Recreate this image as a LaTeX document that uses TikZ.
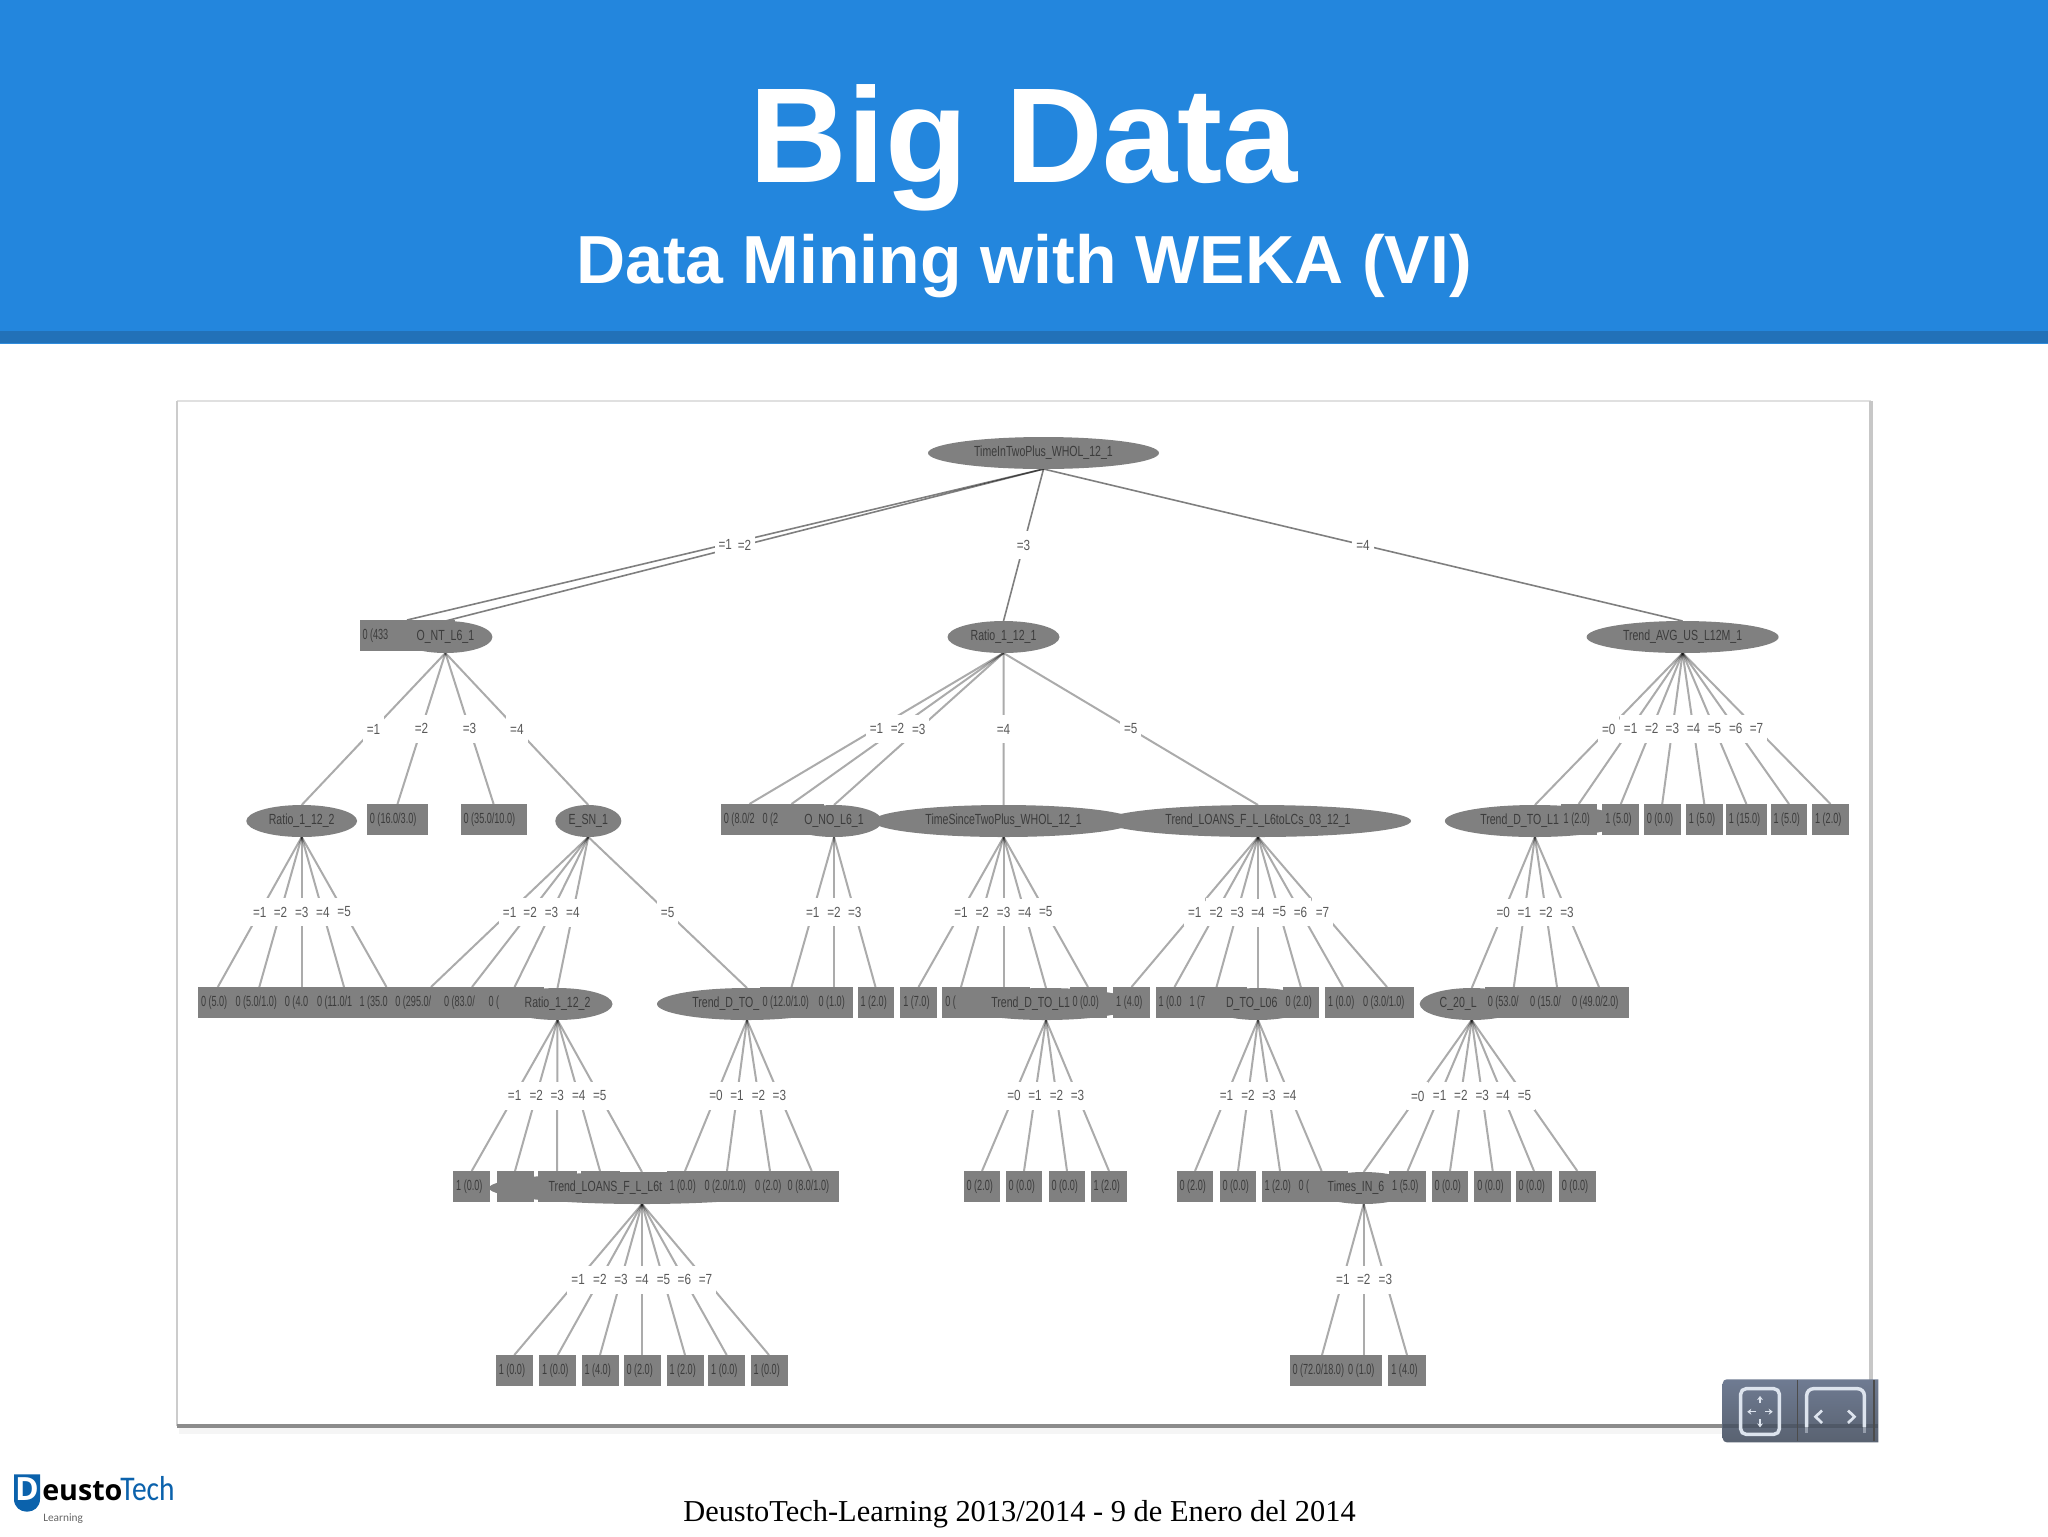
\documentclass[tikz,border=0pt]{standalone}
\usepackage{fontspec}
\usetikzlibrary{shapes.geometric,arrows.meta}
\setmainfont{Liberation Sans}
\newfontfamily\wkfont[FakeStretch=0.72]{Liberation Sans}
\newfontfamily\lffont[FakeStretch=0.62]{Liberation Sans}
\newfontfamily\lbfont[FakeStretch=0.8]{Liberation Sans}
\newfontfamily\footfont{Liberation Serif}
\newfontfamily\logofont{Open Sans}
\newfontfamily\techfont[FakeStretch=0.85]{Carlito}
\newfontfamily\learnfont{Carlito}
\definecolor{hdr}{HTML}{2386DD}
\definecolor{hdrdark}{HTML}{2271B8}
\definecolor{hdrline}{HTML}{2F8CDC}
\definecolor{nodegray}{HTML}{808080}
\definecolor{nodetxt}{HTML}{3C3C3C}
\definecolor{logoblue}{HTML}{0B62AC}
\definecolor{ctltop}{HTML}{6F7B92}
\definecolor{ctlmid}{HTML}{5F6A7F}
\definecolor{ctlbot}{HTML}{596271}
\definecolor{ctlicon}{HTML}{DDE4EE}
\pgfdeclarelayer{lab}
\pgfdeclarelayer{top}
\pgfsetlayers{main,lab,top}
\tikzset{
  ell/.style={shape=ellipse,fill=nodegray,inner sep=0pt,outer sep=0pt,minimum height=24pt,text=nodetxt,font=\wkfont\fontsize{11}{11}\selectfont},
  leaf/.style={shape=rectangle,fill=nodegray,inner sep=0pt,outer sep=0pt,minimum height=23.25pt,text=nodetxt,font=\lffont\fontsize{11}{11}\selectfont},
  edge/.style={draw=black,draw opacity=.33,line width=1.5pt},
  rootedge/.style={draw=black,draw opacity=.5,line width=1.2pt},
  lab/.style={fill=white,inner sep=0pt,minimum width=16pt,minimum height=21pt,text=black!65,font=\lbfont\fontsize{11}{11}\selectfont},
  head/.style={text=white,font=\bfseries},
  ctlline/.style={draw=ctlicon,line width=1pt,-{Stealth[length=3pt,width=4.5pt]}},
}
\newcommand{\EL}[5]{\node[ell,minimum width={1.5*#4 pt}] (#1) at (#2,#3) {#5};}
\newcommand{\ELL}[6]{\node[ell,minimum width={1.5*#4 pt}] (#1) at (#2,#3) {\makebox[#6pt][l]{#5}};}
\newcommand{\RC}[5]{\node[leaf,minimum width={1.5*#4 pt}] (#1) at (#2,#3-1.5) {\makebox[\dimexpr #4pt*3/2-4.5pt\relax][l]{#5}};}
\newcommand{\ED}[3]{\draw[edge] (#1.south) -- (#2.north);
  \begin{pgfonlayer}{lab}\path (#1.south) -- node[lab]{#3} (#2.north);\end{pgfonlayer}}
\newcommand{\EDR}[3]{\draw[rootedge] (#1.south) -- (#2.north);
  \begin{pgfonlayer}{lab}\path (#1.south) -- node[lab]{#3} (#2.north);\end{pgfonlayer}}
\begin{document}
\begin{tikzpicture}[x=.75pt,y=-.75pt]
\useasboundingbox (0,0) rectangle (2048,1536);
\fill[white] (0,0) rectangle (2048,1536);
% header
\fill[hdr] (0,0) rectangle (2048,331);
\fill[hdrdark] (0,331) rectangle (2048,343);
\fill[hdrline] (0,343) rectangle (2048,344);
\node[head,anchor=base] (title) at (1024,182) {\fontsize{101.4}{101.4}\selectfont Big Data};
\node[head,anchor=base] (subtitle) at (1024,283) {\fontsize{51}{51}\selectfont Data Mining with WEKA (VI)};
% frame
\fill[black!4] (179,1428) rectangle (1872,1434);
\draw[black!12,line width=1pt] (177,401) -- (1871,401);
\draw[black!20,line width=2pt] (177,401) -- (177,1426);
\draw[black!22,line width=2.4pt] (1871,401) -- (1871,1426);
\draw[black!45,line width=2.6pt] (177,1426) -- (1871,1426);
% tree nodes
\begin{pgfonlayer}{top}
\def\yA{453}\def\yB{637}\def\yC{821}\def\yD{1004}\def\yE{1188}\def\yF{1372}
\EL{root}{1043.5}{\yA}{115.5}{TimeInTwoPlus\_WHOL\_12\_1}
% level 1
\RC{a1}{407}{\yB}{47.5}{0 (433}
\EL{a2}{445.4}{\yB}{47}{O\_NT\_L6\_1}
\EL{a3}{1003.5}{\yB}{56}{Ratio\_1\_12\_1}
\EL{a4}{1682.6}{\yB}{96}{Trend\_AVG\_US\_L12M\_1}
% level 2
\EL{b1}{301.7}{\yC}{55.4}{Ratio\_1\_12\_2}
\RC{b2}{397.5}{\yC}{30.6}{0 (16.0/3.0)}
\RC{b3}{493.6}{\yC}{33}{0 (35.0/10.0)}
\EL{b4}{588.3}{\yC}{33}{E\_SN\_1}
\RC{b5}{749.4}{\yC}{28.5}{0 (8.0/2}
\RC{b6}{791.5}{\yC}{32}{0 (2}
\EL{b7}{834}{\yC}{48}{O\_NO\_L6\_1}
\EL{b8}{1003.6}{\yC}{131}{TimeSinceTwoPlus\_WHOL\_12\_1}
\EL{b9}{1258}{\yC}{153}{Trend\_LOANS\_F\_L\_L6toLCs\_03\_12\_1}
\ELL{c1}{1534.9}{\yC}{90}{Trend\_D\_TO\_L1}{82}
\RC{c2}{1578.7}{\yC}{18}{1 (2.0)}
\RC{c3}{1620.8}{\yC}{18.4}{1 (5.0)}
\RC{c4}{1662.2}{\yC}{18.4}{0 (0.0)}
\RC{c5}{1704.3}{\yC}{18.4}{1 (5.0)}
\RC{c6}{1746.4}{\yC}{20.5}{1 (15.0)}
\RC{c7}{1789}{\yC}{18.4}{1 (5.0)}
\RC{c8}{1830.5}{\yC}{18.4}{1 (2.0)}
% level 3
\RC{d1}{217.8}{\yD}{19.8}{0 (5.0)}
\RC{d2}{259.3}{\yD}{26.8}{0 (5.0/1.0)}
\RC{d3}{301.7}{\yD}{19.8}{0 (4.0}
\RC{d4}{344}{\yD}{30}{0 (11.0/1}
\RC{d5}{386.5}{\yD}{30}{1 (35.0}
\RC{d6}{431}{\yD}{38.7}{0 (295.0/}
\RC{d7}{472}{\yD}{31}{0 (83.0/}
\RC{d8}{514.6}{\yD}{29}{0 (}
\EL{d9}{557.5}{\yD}{55}{Ratio\_1\_12\_2}
\ELL{e1}{747}{\yD}{90}{Trend\_D\_TO\_}{82}
\RC{e2}{791.5}{\yD}{32}{0 (12.0/1.0)}
\RC{e3}{834}{\yD}{18.5}{0 (1.0)}
\RC{e4}{875.5}{\yD}{18}{1 (2.0)}
\RC{f1}{918.5}{\yD}{18.2}{1 (7.0)}
\RC{f2}{961}{\yD}{18.6}{0 (}
\RC{fx}{1003.6}{\yD}{26}{}
\ELL{f3}{1046}{\yD}{90}{Trend\_D\_TO\_L1}{82}
\RC{f4}{1088}{\yD}{18.5}{0 (0.0)}
\RC{f5}{1131.5}{\yD}{18.3}{1 (4.0)}
\RC{g1}{1174.5}{\yD}{19}{1 (0.0}
\RC{g2}{1216.5}{\yD}{30}{1 (7}
\ELL{g3}{1258}{\yD}{52}{D\_TO\_L06}{48}
\RC{g4}{1300.8}{\yD}{18.3}{0 (2.0)}
\RC{g5}{1343}{\yD}{18}{1 (0.0)}
\RC{g6}{1387}{\yD}{27}{0 (3.0/1.0)}
\ELL{h1}{1471.7}{\yD}{52}{C\_20\_L}{48}
\RC{h2}{1513.8}{\yD}{29}{0 (53.0/}
\RC{h3}{1557}{\yD}{30}{0 (15.0/}
\RC{h4}{1599}{\yD}{30}{0 (49.0/2.0)}
% level 4
\RC{i1}{471.7}{\yE}{18.5}{1 (0.0)}
\RC{i2}{515}{\yE}{18.5}{}
\RC{i3}{557}{\yE}{19.5}{}
\RC{i4}{600}{\yE}{19.5}{}
\ELL{i5}{642}{\yE}{153}{Trend\_LOANS\_F\_L\_L6t}{140}
\RC{j1}{685}{\yE}{18.5}{1 (0.0)}
\RC{j2}{727}{\yE}{25.5}{0 (2.0/1.0)}
\RC{j3}{770}{\yE}{18}{0 (2.0)}
\RC{j4}{811.7}{\yE}{27}{0 (8.0/1.0)}
\RC{k1}{982}{\yE}{18.4}{0 (2.0)}
\RC{k2}{1024}{\yE}{18.4}{0 (0.0)}
\RC{k3}{1067}{\yE}{18.4}{0 (0.0)}
\RC{k4}{1109}{\yE}{18.4}{1 (2.0)}
\RC{l1}{1195}{\yE}{18.4}{0 (2.0)}
\RC{l2}{1238}{\yE}{18.4}{0 (0.0)}
\RC{l3}{1280}{\yE}{18.4}{1 (2.0)}
\RC{l4}{1321.6}{\yE}{26}{0 (}
\ELL{l5}{1363.7}{\yE}{50}{Times\_IN\_6}{54}
\RC{m1}{1407.6}{\yE}{18.4}{1 (5.0)}
\RC{m2}{1450}{\yE}{18.4}{0 (0.0)}
\RC{m3}{1492.7}{\yE}{18.4}{0 (0.0)}
\RC{m4}{1534}{\yE}{18.4}{0 (0.0)}
\RC{m5}{1577.3}{\yE}{18.4}{0 (0.0)}
% level 5
\RC{n1}{514.3}{\yF}{18.5}{1 (0.0)}
\RC{n2}{557.7}{\yF}{18.5}{1 (0.0)}
\RC{n3}{600}{\yF}{18.5}{1 (4.0)}
\RC{n4}{642}{\yF}{18.5}{0 (2.0)}
\RC{n5}{685}{\yF}{18.5}{1 (2.0)}
\RC{n6}{726.7}{\yF}{18.5}{1 (0.0)}
\RC{n7}{769}{\yF}{18.5}{1 (0.0)}
\RC{o1}{1322}{\yF}{32.5}{0 (72.0/18.0)}
\RC{o2}{1363.7}{\yF}{18.5}{0 (1.0)}
\RC{o3}{1407}{\yF}{18.6}{1 (4.0)}
\end{pgfonlayer}
% edges
\EDR{root}{a1}{=1}\EDR{root}{a2}{=2}\EDR{root}{a3}{=3}\EDR{root}{a4}{=4}
\ED{a2}{b1}{=1}\ED{a2}{b2}{=2}\ED{a2}{b3}{=3}\ED{a2}{b4}{=4}
\ED{a3}{b5}{=1}\ED{a3}{b6}{=2}\ED{a3}{b7}{=3}\ED{a3}{b8}{=4}\ED{a3}{b9}{=5}
\ED{a4}{c1}{=0}\ED{a4}{c2}{=1}\ED{a4}{c3}{=2}\ED{a4}{c4}{=3}\ED{a4}{c5}{=4}\ED{a4}{c6}{=5}\ED{a4}{c7}{=6}\ED{a4}{c8}{=7}
\ED{b1}{d1}{=1}\ED{b1}{d2}{=2}\ED{b1}{d3}{=3}\ED{b1}{d4}{=4}\ED{b1}{d5}{=5}
\ED{b4}{d6}{=1}\ED{b4}{d7}{=2}\ED{b4}{d8}{=3}\ED{b4}{d9}{=4}\ED{b4}{e1}{=5}
\ED{b7}{e2}{=1}\ED{b7}{e3}{=2}\ED{b7}{e4}{=3}
\ED{b8}{f1}{=1}\ED{b8}{f2}{=2}\ED{b8}{fx}{=3}\ED{b8}{f3}{=4}\ED{b8}{f4}{=5}
\ED{b9}{f5}{=1}\ED{b9}{g1}{=2}\ED{b9}{g2}{=3}\ED{b9}{g3}{=4}\ED{b9}{g4}{=5}\ED{b9}{g5}{=6}\ED{b9}{g6}{=7}
\ED{c1}{h1}{=0}\ED{c1}{h2}{=1}\ED{c1}{h3}{=2}\ED{c1}{h4}{=3}
\ED{d9}{i1}{=1}\ED{d9}{i2}{=2}\ED{d9}{i3}{=3}\ED{d9}{i4}{=4}\ED{d9}{i5}{=5}
\ED{e1}{j1}{=0}\ED{e1}{j2}{=1}\ED{e1}{j3}{=2}\ED{e1}{j4}{=3}
\ED{f3}{k1}{=0}\ED{f3}{k2}{=1}\ED{f3}{k3}{=2}\ED{f3}{k4}{=3}
\ED{g3}{l1}{=1}\ED{g3}{l2}{=2}\ED{g3}{l3}{=3}\ED{g3}{l4}{=4}
\ED{h1}{l5}{=0}\ED{h1}{m1}{=1}\ED{h1}{m2}{=2}\ED{h1}{m3}{=3}\ED{h1}{m4}{=4}\ED{h1}{m5}{=5}
\ED{i5}{n1}{=1}\ED{i5}{n2}{=2}\ED{i5}{n3}{=3}\ED{i5}{n4}{=4}\ED{i5}{n5}{=5}\ED{i5}{n6}{=6}\ED{i5}{n7}{=7}
\ED{l5}{o1}{=1}\ED{l5}{o2}{=2}\ED{l5}{o3}{=3}
% player controls
\begin{pgfonlayer}{top}
\shade[top color=ctltop,middle color=ctlmid,bottom color=ctlbot] (1878.3,1379.3) [rounded corners=3pt] -- (1722.7,1379.3) -- (1722.7,1442.3) [sharp corners] -- (1878.3,1442.3) -- cycle;
\fill[black,fill opacity=.15] (1723,1424) rectangle (1878.3,1428);
\draw[black!70,line width=.8pt] (1797.7,1380) -- (1797.7,1441);
\draw[black!70,line width=.8pt] (1874,1380) -- (1874,1441);
\draw[ctlicon,line width=2.6pt,rounded corners=4pt] (1740.7,1388.7) rectangle (1779.3,1434.3);
\draw[ctlicon,line width=2.6pt,rounded corners=5pt] (1806.7,1427) -- (1806.7,1388.7) -- (1864.3,1388.7) -- (1864.3,1427);
\draw[ctlicon,draw opacity=.45,line width=2.6pt] (1806.7,1427) -- (1806.7,1433);
\draw[ctlicon,draw opacity=.45,line width=2.6pt] (1864.3,1427) -- (1864.3,1433);
\draw[ctlline] (1760,1403.3) -- (1760,1396);
\draw[ctlline] (1760,1419.3) -- (1760,1427.3);
\draw[ctlline] (1756,1411.7) -- (1747.3,1411.7);
\draw[ctlline] (1765,1411.7) -- (1772.7,1411.7);
\draw[ctlicon,line width=2pt] (1822,1410.5) -- (1815.5,1416.7) -- (1822,1423);
\draw[ctlicon,line width=2pt] (1848,1410.5) -- (1854.5,1416.7) -- (1848,1423);
\end{pgfonlayer}
% footer
\node[anchor=base,text=black,font=\footfont\fontsize{22.8}{22.8}\selectfont] (footer) at (1019.5,1521) {DeustoTech-Learning 2013/2014 - 9 de Enero del 2014};
% logo
\fill[logoblue] (14,1474.3) -- (40,1474.3) -- (40,1499) .. controls (40,1507) and (34,1511.7) .. (27,1511.7) .. controls (20,1511.7) and (14,1507) .. (14,1499) -- cycle;
\node[anchor=base,text=white,font=\logofont\bfseries\fontsize{24}{24}\selectfont] (logoD) at (27,1500.7) {D};
\node[anchor=base west,inner sep=0pt,text=black,font=\logofont\bfseries\fontsize{21.5}{21.5}\selectfont] (logoE) at (42,1500.7) {eusto};
\node[anchor=base west,inner sep=0pt,text=logoblue,font=\techfont\fontsize{26}{26}\selectfont] (logoT) at (120,1500.7) {Tech};
\node[anchor=base west,inner sep=0pt,text=black!60,font=\learnfont\fontsize{8.5}{8.5}\selectfont] (logoL) at (43,1521.5) {Learning};
\end{tikzpicture}
\end{document}
